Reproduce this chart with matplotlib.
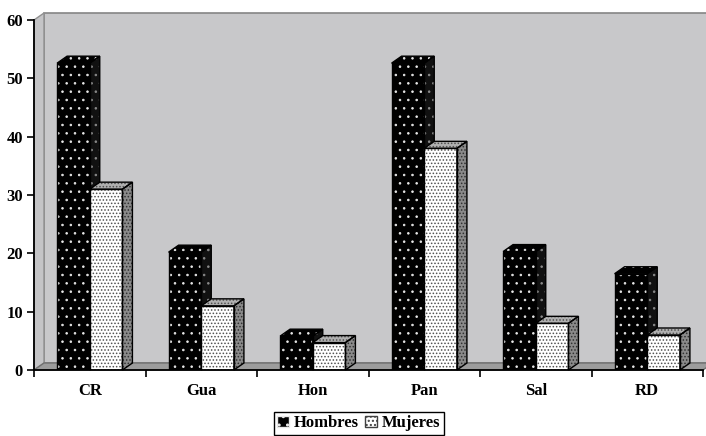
import matplotlib
matplotlib.use("Agg")
import matplotlib.pyplot as plt
from matplotlib.patches import Polygon, Patch
import numpy as np

# categories and values per series
paises = ["CR", "Gua", "Hon", "Pan", "Sal", "RD"]
hombres = [52.6, 20.2, 5.8, 52.6, 20.3, 16.5]
mujeres = [31.0, 11.0, 4.7, 38.0, 8.0, 6.0]
series_names = ["Hombres", "Mujeres"]

plt.rcParams["font.family"] = ["Liberation Serif", "DejaVu Serif"]
plt.rcParams["font.weight"] = "bold"

fig = plt.figure(figsize=(7.06, 4.36), dpi=100)
ax = fig.add_axes([34 / 706, 66 / 436, 669 / 706, 350 / 436])
ax.set_xlim(-0.5, len(paises) - 0.5)
ax.set_ylim(0, 60)

# depth of the pseudo-3d box in data units
dx = 10 / 111.5
dy = 7 * 60 / 350
bw = 0.293

x0, x1 = -0.5, len(paises) - 0.5
# back wall, side wall and floor
back = Polygon([(x0 + dx, dy), (x1 + dx, dy), (x1 + dx, 60 + dy), (x0 + dx, 60 + dy)],
               closed=True, facecolor="#c8c8ca", edgecolor="#858585", lw=1.2, clip_on=False, zorder=0)
side = Polygon([(x0, 0), (x0 + dx, dy), (x0 + dx, 60 + dy), (x0, 60)],
               closed=True, facecolor="#c4c4c6", edgecolor="#909090", lw=1.0, clip_on=False, zorder=0)
floor = Polygon([(x0, 0), (x1, 0), (x1 + dx, dy), (x0 + dx, dy)],
                closed=True, facecolor="#9c9c9c", edgecolor="#707070", lw=1.0, clip_on=False, zorder=0)
for p in (back, side, floor):
    ax.add_patch(p)

x = np.arange(len(paises))


def draw_column(xl, h, face, dots, top_face, side_face, side_dots, hatch, hlw, z):
    xr = xl + bw
    with plt.rc_context({"hatch.linewidth": hlw}):
        ax.bar(xl, h, width=bw, align="edge", color=face, edgecolor=dots,
               hatch=hatch, linewidth=0, zorder=z)
        top = Polygon([(xl, h), (xr, h), (xr + dx, h + dy), (xl + dx, h + dy)], closed=True,
                      facecolor=top_face, edgecolor=dots, hatch=hatch, lw=0, zorder=z, clip_on=False)
        sd = Polygon([(xr, 0), (xr, h), (xr + dx, h + dy), (xr + dx, dy)], closed=True,
                     facecolor=side_face, edgecolor=side_dots, hatch=hatch, lw=0, zorder=z, clip_on=False)
    ax.add_patch(top)
    ax.add_patch(sd)
    # black outlines on every face
    ax.bar(xl, h, width=bw, align="edge", fill=False, edgecolor="black", linewidth=1.0, zorder=z + 0.1)
    for poly in ([(xl, h), (xr, h), (xr + dx, h + dy), (xl + dx, h + dy)],
                 [(xr, 0), (xr, h), (xr + dx, h + dy), (xr + dx, dy)]):
        ax.add_patch(Polygon(poly, closed=True, fill=False, edgecolor="black", lw=1.0,
                             zorder=z + 0.1, clip_on=False))


for i in range(len(paises)):
    draw_column(x[i] - bw, hombres[i], "black", "#e8e8e8", "black", "#111111", "#8a8a8a", "..", 0.6, 2 + i)
    draw_column(x[i], mujeres[i], "white", "#505050", "#b0b0b0", "#8a8a8a", "#303030", ".....", 0.7, 2.5 + i)

# axes styling
for s in ("top", "right"):
    ax.spines[s].set_visible(False)
for s in ("left", "bottom"):
    ax.spines[s].set_linewidth(1.3)
    ax.spines[s].set_zorder(20)
ax.set_yticks(np.arange(0, 61, 10))
ax.tick_params(axis="y", direction="out", length=5, width=1.2, pad=3, labelsize=12)
ax.set_xticks(x)
ax.set_xticklabels(paises)
ax.set_xticks(np.arange(-0.5, len(paises), 1), minor=True)
ax.tick_params(axis="x", which="major", length=0, pad=9, labelsize=12)
ax.tick_params(axis="x", which="minor", direction="out", length=5, width=1.2)
for lab in ax.get_xticklabels() + ax.get_yticklabels():
    lab.set_fontweight("bold")

with plt.rc_context({"hatch.linewidth": 0.6}):
    handles = [Patch(facecolor="black", edgecolor="#e8e8e8", hatch="..", label=series_names[0]),
               Patch(facecolor="white", edgecolor="#404040", hatch="....", label=series_names[1])]
leg = fig.legend(handles=handles, loc="lower center", bbox_to_anchor=(0.508, 0.003), ncol=2,
                 frameon=True, fancybox=False, edgecolor="black", framealpha=1,
                 handlelength=0.7, handleheight=0.7, handletextpad=0.3, columnspacing=0.4,
                 borderpad=0.2, borderaxespad=0, prop={"weight": "bold", "size": 12})
leg.get_frame().set_linewidth(1.0)

fig.savefig("out.png", dpi=100)
